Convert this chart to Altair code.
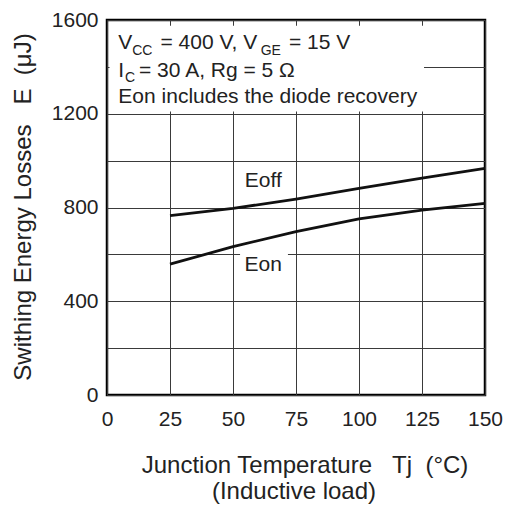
import altair as alt
import pandas as pd

# ---- data ----
temps = [25, 50, 75, 100, 125, 150]
eoff = [765, 796, 836, 882, 925, 967]
eon = [558, 633, 697, 751, 789, 818]

x_ticks = [0, 25, 50, 75, 100, 125, 150]
y_grid = [0, 200, 400, 600, 800, 1000, 1200, 1400, 1600]

curve_labels = ["Eoff", "Eon"]
curve_label_x = [62, 62]
curve_label_y = [913, 555]

ann_text = ["V", "CC", "= 400 V, V", "GE", "= 15 V",
            "I", "C", "= 30 A, Rg = 5 \u03a9",
            "Eon includes the diode recovery"]
ann_x = [4.5, 10.0, 21.2, 61.0, 72.2, 4.5, 7.1, 12.7, 4.5]
ann_y = [1475, 1451, 1475, 1451, 1475, 1358, 1336, 1358, 1247]
ann_size = [21, 14, 21, 14, 21, 21, 14, 21, 21]

# second line of the x-axis title, placed below the axis (data units)
xtitle2 = ["(Inductive load)"]
xtitle2_x = [74.2]
xtitle2_y = [-444]

# white boxes behind the annotation and the "Eon" label (data units)
box_x = [1, 52.8]
box_x2 = [125.8, 71.8]
box_y = [1210, 505]
box_y2 = [1576, 615]

FONT = "Liberation Sans"
TXT = "#222"

curves = pd.DataFrame({
    "T": temps * 2,
    "E": eoff + eon,
    "curve": ["Eoff"] * len(temps) + ["Eon"] * len(temps),
})
labels = pd.DataFrame({"t": curve_labels, "x": curve_label_x, "y": curve_label_y})
ann = pd.DataFrame({"t": ann_text, "x": ann_x, "y": ann_y, "s": ann_size})
boxes = pd.DataFrame({"x": box_x, "x2": box_x2, "y": box_y, "y2": box_y2})
t2 = pd.DataFrame({"t": xtitle2, "x": xtitle2_x, "y": xtitle2_y})

xscale = alt.Scale(domain=[0, 150], nice=False, zero=False)
yscale = alt.Scale(domain=[0, 1600], nice=False)

xaxis = alt.Axis(
    values=x_ticks, grid=True, tickSize=0, domain=False,
    labelFont=FONT, labelFontSize=21, labelColor=TXT, labelPadding=13,
    labelFlush=False, labelOverlap=False,
    title="Junction Temperature\u00a0\u00a0\u00a0Tj\u00a0\u00a0(\u00b0C)",
    titleFont=FONT, titleFontSize=24, titleFontWeight="normal", titleColor=TXT,
    titleX=197.5, titleY=77, titleAlign="center", titleBaseline="alphabetic",
)
yaxis = alt.Axis(
    values=y_grid, grid=True, tickSize=0, domain=False, format="d",
    labelExpr="datum.value % 400 == 0 ? datum.label : ''",
    labelFont=FONT, labelFontSize=21, labelColor=TXT, labelPadding=9,
    labelFlush=False, labelOverlap=False,
    title="Swithing Energy Losses\u00a0\u00a0\u00a0E\u00a0\u00a0(\u03bcJ)",
    titleFont=FONT, titleFontSize=24, titleFontWeight="normal", titleColor=TXT,
    titleX=-84, titleY=186.5, titleAngle=-90, titleAlign="center", titleBaseline="middle",
)

base_x = alt.X("T:Q", scale=xscale, axis=xaxis)
base_y = alt.Y("E:Q", scale=yscale, axis=yaxis)

lines = alt.Chart(curves).mark_line(color="#111", strokeWidth=2.8).encode(
    x=base_x, y=base_y, detail="curve:N"
)

rects = alt.Chart(boxes).mark_rect(fill="white").encode(
    x=alt.X("x:Q", scale=xscale), x2="x2:Q",
    y=alt.Y("y:Q", scale=yscale), y2="y2:Q",
)

curve_text = alt.Chart(labels).mark_text(
    font=FONT, fontSize=21, color=TXT, align="center", baseline="middle"
).encode(x=alt.X("x:Q", scale=xscale), y=alt.Y("y:Q", scale=yscale), text="t:N")

ann_text_mark = alt.Chart(ann).mark_text(
    font=FONT, color=TXT, align="left", baseline="alphabetic"
).encode(
    x=alt.X("x:Q", scale=xscale), y=alt.Y("y:Q", scale=yscale), text="t:N",
    size=alt.Size("s:Q", scale=None, legend=None),
)

title2_mark = alt.Chart(t2).mark_text(
    font=FONT, fontSize=24, color=TXT, align="center", baseline="alphabetic"
).encode(x=alt.X("x:Q", scale=xscale), y=alt.Y("y:Q", scale=yscale), text="t:N")

chart = alt.layer(lines, rects, curve_text, ann_text_mark, title2_mark).properties(
    width=378, height=375,
    autosize=alt.AutoSizeParams(type="none"),
    padding={"left": 99, "top": 12, "right": 18, "bottom": 110},
).configure_view(
    stroke="#000", strokeWidth=2.5
).configure_axis(
    gridColor="#3a3a3a", gridWidth=1, gridOpacity=1
)

chart.save("out.html", embed_options={"renderer": "svg", "actions": False})
